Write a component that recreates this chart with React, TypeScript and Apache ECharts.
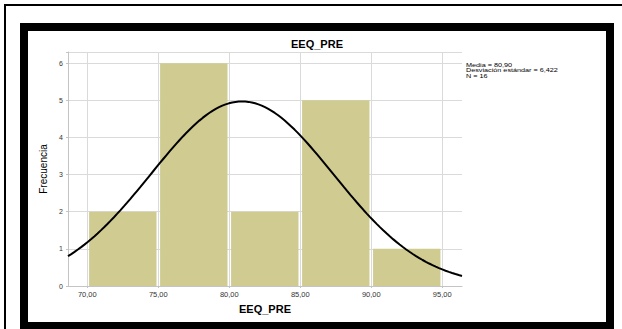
import React, { useEffect, useRef } from "react";
import * as echarts from "echarts";

const binEdges = [70, 75, 80, 85, 90, 95];
const counts = [2, 6, 2, 5, 1];
const xTicks = [70, 75, 80, 85, 90, 95];
const yTicks = [0, 1, 2, 3, 4, 5, 6];
const mean = 80.9;
const sd = 6.422;
const n = 16;
const xMin = 68.64;
const xMax = 96.39;
const statLines = ["Media = 80,90", "Desviación estándar = 6,422", "N = 16"];
const title = "EEQ_PRE";
const yName = "Frecuencia";

const fmt = (v: number) => v.toFixed(2).replace(".", ",");

export default function App() {
  const ref = useRef<HTMLDivElement>(null);
  useEffect(() => {
    if (!ref.current) return;
    const chart = echarts.init(ref.current, null, { renderer: "svg" });
    const binW = binEdges[1] - binEdges[0];
    const bars = counts.map((c, i) => [binEdges[i], binEdges[i + 1], c]);
    const curve: number[][] = [];
    const steps = 120;
    for (let i = 0; i <= steps; i++) {
      const x = xMin + ((xMax - xMin) * i) / steps;
      const z = (x - mean) / sd;
      curve.push([x, (n * binW * Math.exp(-0.5 * z * z)) / (sd * Math.sqrt(2 * Math.PI))]);
    }
    const font = "Liberation Sans, Arial, sans-serif";
    const statSize = 5.8;
    chart.setOption({
      animation: false,
      textStyle: { fontFamily: font },
      grid: { left: 68, right: 160, top: 52, bottom: 43, containLabel: false },
      xAxis: {
        type: "value",
        min: xMin,
        max: xMax,
        name: title,
        nameLocation: "middle",
        nameGap: 17,
        nameTextStyle: { fontSize: 11, fontWeight: "bold", color: "#000", fontFamily: font },
        axisLine: { show: true, lineStyle: { color: "#c4c4c4", width: 1 } },
        axisTick: { show: true, length: 2, customValues: xTicks, lineStyle: { color: "#c4c4c4" } },
        axisLabel: {
          customValues: xTicks,
          formatter: (v: number) => fmt(v),
          fontSize: 7.5,
          color: "#333",
          margin: 4,
        },
        splitLine: { show: true, lineStyle: { color: "#dadada", width: 1 } },
      },
      yAxis: {
        type: "value",
        min: 0,
        max: 6.3,
        interval: 1,
        name: yName,
        nameLocation: "middle",
        nameGap: 20,
        nameTextStyle: { fontSize: 10, color: "#000", fontFamily: font },
        axisLine: { show: true, lineStyle: { color: "#c4c4c4", width: 1 } },
        axisTick: { show: true, length: 2, lineStyle: { color: "#c4c4c4" } },
        axisLabel: {
          fontSize: 7,
          color: "#333",
          margin: 5,
          formatter: (v: number) => (yTicks.includes(v) ? String(v) : ""),
        },
        splitLine: { show: true, lineStyle: { color: "#dadada", width: 1 } },
      },
      title: {
        text: title,
        left: 317,
        top: 38.5,
        padding: 0,
        textAlign: "center",
        textStyle: { fontSize: 11, fontWeight: "bold", color: "#000", fontFamily: font },
      },
      graphic: [
        { type: "rect", shape: { x: 4, y: 4, width: 640, height: 2 }, style: { fill: "#000" } },
        { type: "rect", shape: { x: 4, y: 4, width: 2, height: 340 }, style: { fill: "#000" } },
        { type: "rect", shape: { x: 20, y: 23, width: 8, height: 320 }, style: { fill: "#000" } },
        { type: "rect", shape: { x: 20, y: 23, width: 594, height: 8 }, style: { fill: "#000" } },
        { type: "rect", shape: { x: 606, y: 23, width: 8, height: 320 }, style: { fill: "#000" } },
        { type: "rect", shape: { x: 20, y: 322, width: 594, height: 10 }, style: { fill: "#000" } },
        ...statLines.map((t, i) => ({
          type: "text",
          x: 466,
          y: 61.5 + i * statSize,
          scaleX: 1.25,
          style: {
            text: t,
            fontSize: statSize,
            lineHeight: statSize,
            fill: "#000",
            fontFamily: font,
            textVerticalAlign: "top",
          },
        })),
      ],
      series: [
        {
          type: "custom",
          data: bars,
          encode: { x: [0, 1], y: 2 },
          renderItem: (params: any, api: any) => {
            const x0 = api.value(0);
            const x1 = api.value(1);
            const v = api.value(2);
            const p0 = api.coord([x0, v]);
            const p1 = api.coord([x1, 0]);
            return {
              type: "rect",
              shape: { x: p0[0] + 1.8, y: p0[1], width: p1[0] - p0[0] - 3.6, height: p1[1] - p0[1] },
              style: { fill: "#cfcb91" },
            };
          },
          z: 2,
        },
        {
          type: "line",
          data: curve,
          showSymbol: false,
          smooth: false,
          lineStyle: { color: "#000", width: 2 },
          z: 3,
        },
      ],
    });
    return () => chart.dispose();
  }, []);
  return (
    <div
      ref={ref}
      style={{ position: "fixed", left: 0, top: 0, width: 622, height: 329, background: "#fff" }}
    />
  );
}
